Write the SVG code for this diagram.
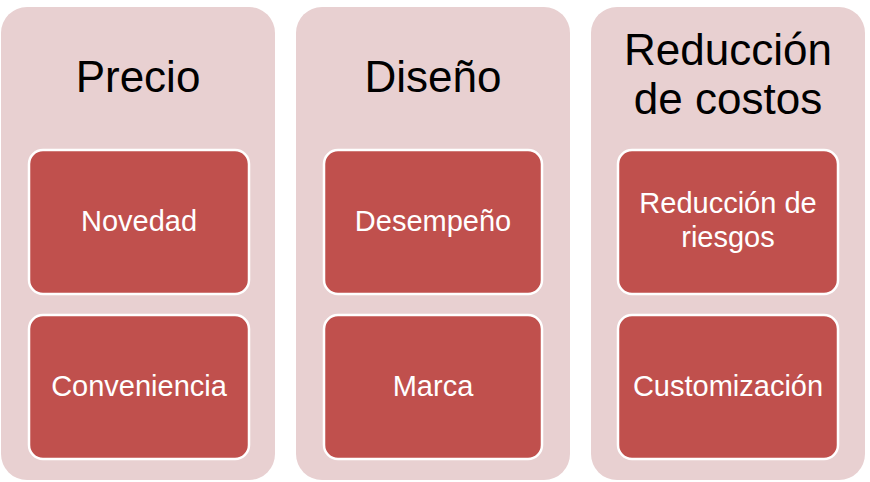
<svg xmlns="http://www.w3.org/2000/svg" width="870" height="482" viewBox="0 0 870 482">
<style>
.col{fill:#E8D0D1;}
.box{fill:#C0504D;stroke:#FFFFFF;stroke-width:2.5;}
.h{font-family:"Liberation Sans","Open Sans",sans-serif;font-size:44px;fill:#000;text-anchor:middle;}
.t{font-family:"Liberation Sans","Open Sans",sans-serif;font-size:29px;fill:#FFF;text-anchor:middle;}
</style>
<rect width="870" height="482" fill="#FFFFFF"/>
<g id="col1">
<rect class="col" x="1" y="7" width="274" height="473" rx="26"/>
<text class="h" x="138" y="92">Precio</text>
</g>
<g id="col2">
<rect class="col" x="296" y="7" width="274" height="473" rx="26"/>
<text class="h" x="433" y="92">Diseño</text>
</g>
<g id="col3">
<rect class="col" x="591" y="7" width="274" height="473" rx="26"/>
<text class="h" x="728" y="65">Reducción</text>
<text class="h" x="728" y="114">de costos</text>
</g>
<g id="novedad">
<rect class="box" x="29" y="150" width="220" height="144" rx="14"/>
<text class="t" x="139" y="231">Novedad</text>
</g>
<g id="conveniencia">
<rect class="box" x="29" y="315" width="220" height="144" rx="14"/>
<text class="t" x="139" y="396">Conveniencia</text>
</g>
<g id="desempeno">
<rect class="box" x="324" y="150" width="218" height="144" rx="14"/>
<text class="t" x="433" y="231">Desempeño</text>
</g>
<g id="marca">
<rect class="box" x="324" y="315" width="218" height="144" rx="14"/>
<text class="t" x="433" y="396">Marca</text>
</g>
<g id="reduccion-riesgos">
<rect class="box" x="618" y="150" width="220" height="144" rx="14"/>
<text class="t" x="728" y="213">Reducción de</text>
<text class="t" x="728" y="247">riesgos</text>
</g>
<g id="customizacion">
<rect class="box" x="618" y="315" width="220" height="144" rx="14"/>
<text class="t" x="728" y="396">Customización</text>
</g>
<g id="connectors"></g>
</svg>
